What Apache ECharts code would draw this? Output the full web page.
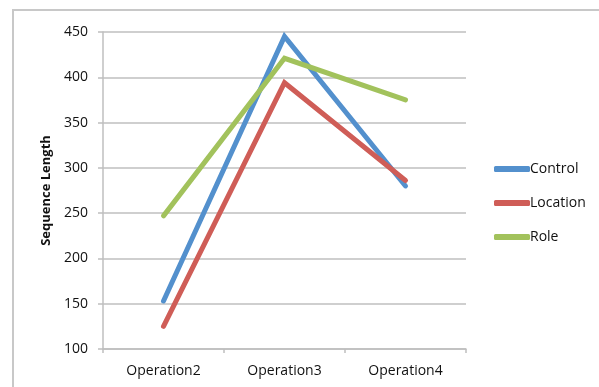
<!DOCTYPE html>
<html>
<head>
<meta charset="utf-8">
<script src="https://cdn.jsdelivr.net/npm/echarts@6/dist/echarts.min.js"></script>
<style>
  html, body { margin: 0; padding: 0; background: #fff; }
  #chart { width: 599px; height: 387px; }
</style>
</head>
<body>
<div id="chart"></div>
<script>
const categories = ['Operation2', 'Operation3', 'Operation4'];
const controlValues = [153, 445, 280];
const locationValues = [125, 394, 286];
const roleValues = [247, 421, 375];

const chart = echarts.init(document.getElementById('chart'));

const font = '"Open Sans", sans-serif';

function lineSeries(name, data, color) {
    return {
        name: name,
        type: 'line',
        data: data,
        symbol: 'none',
        lineStyle: { width: 5, color: color, cap: 'round', join: 'miter' },
        itemStyle: { color: color }
    };
}

const option = {
    animation: false,
    backgroundColor: '#fff',
    textStyle: { fontFamily: font },
    grid: { left: 103, right: 133, top: 32, bottom: 38 },
    // outer chart frame (top and left edges visible in the reference)
    graphic: [
        { type: 'line', shape: { x1: 12, y1: 10, x2: 599, y2: 10 }, style: { stroke: '#c8c8c8', lineWidth: 2 } },
        { type: 'line', shape: { x1: 13, y1: 10, x2: 13, y2: 387 }, style: { stroke: '#c8c8c8', lineWidth: 2 } }
    ],
    legend: {
        orient: 'vertical',
        left: 489,
        top: 157,
        itemWidth: 36,
        itemHeight: 6,
        itemGap: 20,
        icon: 'roundRect',
        textStyle: { fontFamily: font, fontSize: 14, color: '#111', padding: [0, 0, 0, -5] },
        data: ['Control', 'Location', 'Role']
    },
    xAxis: {
        type: 'category',
        data: categories,
        boundaryGap: true,
        axisLine: { lineStyle: { color: '#bfbfbf', width: 1.5 } },
        axisTick: { show: true, length: 4, lineStyle: { color: '#bfbfbf', width: 1.5 } },
        axisLabel: { fontFamily: font, fontSize: 14, color: '#111', margin: 15 }
    },
    yAxis: {
        type: 'value',
        min: 100,
        max: 450,
        interval: 50,
        name: 'Sequence Length',
        nameLocation: 'middle',
        nameGap: 48,
        nameTextStyle: { fontFamily: font, fontSize: 13, fontWeight: 'bold', color: '#111' },
        axisLine: { show: true, lineStyle: { color: '#bfbfbf', width: 1.5 } },
        axisTick: { show: true, inside: false, length: 5, lineStyle: { color: '#bfbfbf', width: 1.5 } },
        axisLabel: { fontFamily: font, fontSize: 14, color: '#111', margin: 15 },
        splitLine: { lineStyle: { color: '#bfbfbf', width: 1.5 } }
    },
    series: [
        lineSeries('Control', controlValues, '#5390cd'),
        lineSeries('Location', locationValues, '#cf5d57'),
        lineSeries('Role', roleValues, '#a2c25c')
    ]
};

chart.setOption(option);
</script>
</body>
</html>
